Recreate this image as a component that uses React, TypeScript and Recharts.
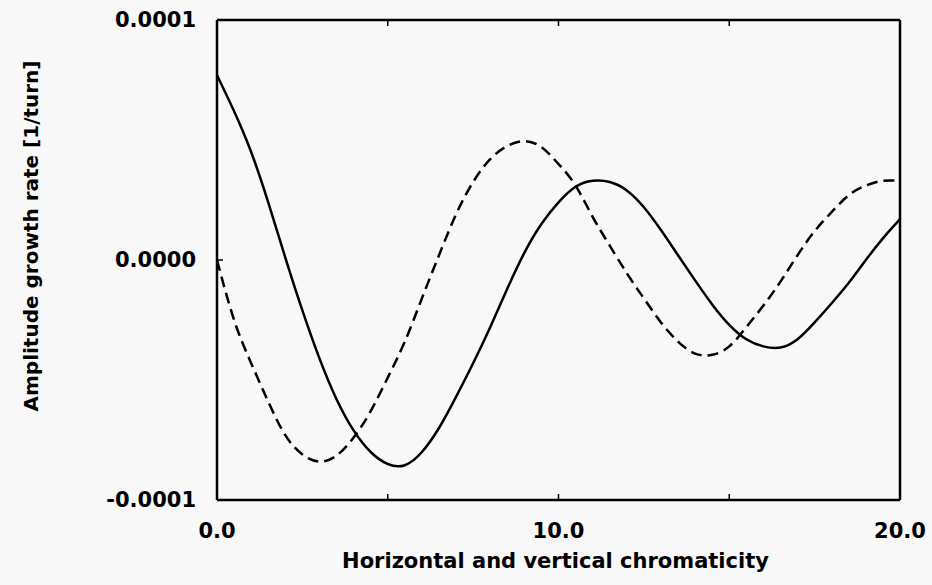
import React from 'react';
import { LineChart, Line, XAxis, YAxis, Label } from 'recharts';

// chromaticity values (x axis)
const chroma = [
  0, 0.5, 1, 1.5, 2, 2.5, 3, 3.5, 4, 4.5, 5, 5.5, 6, 6.5, 7, 7.5, 8, 8.5, 9, 9.5, 10,
  10.5, 11, 11.5, 12, 12.5, 13, 13.5, 14, 14.5, 15, 15.5, 16, 16.5, 17, 17.5, 18, 18.5, 19, 19.5, 20,
];

// growth rates, in units of 1e-6 per turn
const solidRate = [
  77, 62, 45, 24, 1, -21, -41, -58, -71, -80, -85, -85.5, -80, -70, -57, -43, -28, -12, 3, 15, 24,
  30.5, 33, 32.5, 29, 22, 12.5, 2, -8.5, -18.5, -27, -33, -36, -36.5, -33, -26, -18, -9.5, 0, 9, 17,
];
const dashedRate = [
  0, -25, -43, -59, -73, -81, -84, -81.5, -74, -63, -49, -34, -16, 2, 19, 32.5, 42, 47.5, 49.5, 47, 40,
  31, 18, 6, -5.5, -16, -26, -34, -39, -39.5, -36, -28, -19, -9, 2, 12, 20, 27, 31, 33, 33,
];

const xTicks = [0, 5, 10, 15, 20];
const xLabelled = [0, 10, 20];
const yTicks = [-100, 0, 100];

const data = chroma.map((t, i) => ({ t, solid: solidRate[i], dashed: dashedRate[i] }));

const FONT = '"DejaVu Sans", Arial, sans-serif';
const tickStyle = { fill: '#000', fontSize: 21, fontFamily: FONT, fontWeight: 'bold' as const };
const frame = { stroke: '#000', strokeWidth: 2.5 };
const tickLine = { stroke: '#000', strokeWidth: 1.5 };

const YTitle = (props: any) => {
  const vb = props.viewBox;
  const cy = vb.y + vb.height / 2 - 24;
  return (
    <text x={31} y={cy} transform={`rotate(-90, 31, ${cy})`} textAnchor="middle" dominantBaseline="central"
      fill="#000" fontSize={20} fontFamily={FONT} fontWeight="bold">
      Amplitude growth rate [1/turn]
    </text>
  );
};

const XTitle = (props: any) => {
  const vb = props.viewBox;
  return (
    <text x={vb.x + vb.width / 2 - 3} y={vb.y + 68} textAnchor="middle"
      fill="#000" fontSize={21} fontFamily={FONT} fontWeight="bold">
      Horizontal and vertical chromaticity
    </text>
  );
};

export default function App() {
  return (
    <div style={{ position: 'absolute', left: 0, top: 0, width: 932, height: 585, background: '#f8f8f8' }}>
      <LineChart width={932} height={585} data={data} margin={{ top: 0, right: 0, bottom: 0, left: 0 }}>
        <XAxis dataKey="t" type="number" domain={[0, 20]} ticks={xTicks} allowDataOverflow
          height={85} axisLine={frame} tickLine={tickLine} tickSize={-6} tickMargin={29}
          tick={tickStyle} tickFormatter={(v: number) => (xLabelled.includes(v) ? v.toFixed(1) : '')}>
          <Label content={XTitle} />
        </XAxis>
        <XAxis xAxisId="top" orientation="top" dataKey="t" type="number" domain={[0, 20]} ticks={[5, 10, 15]}
          height={20} axisLine={frame} tickLine={tickLine} tickSize={-6} tickFormatter={() => ''} />
        <YAxis type="number" domain={[-100, 100]} ticks={yTicks} allowDataOverflow width={217}
          axisLine={frame} tickLine={tickLine} tickSize={-6} tickMargin={27}
          tick={tickStyle} tickFormatter={(v: number) => (v * 1e-6).toFixed(4)}>
          <Label content={YTitle} />
        </YAxis>
        <YAxis yAxisId="right" orientation="right" type="number" domain={[-100, 100]} ticks={[0]} width={32}
          axisLine={frame} tickLine={tickLine} tickSize={-8} tickFormatter={() => ''} />
        <Line type="natural" dataKey="solid" stroke="#000" strokeWidth={2.5} dot={false} isAnimationActive={false} />
        <Line type="natural" dataKey="dashed" stroke="#000" strokeWidth={2.5} strokeDasharray="11 6" dot={false}
          isAnimationActive={false} />
      </LineChart>
    </div>
  );
}
